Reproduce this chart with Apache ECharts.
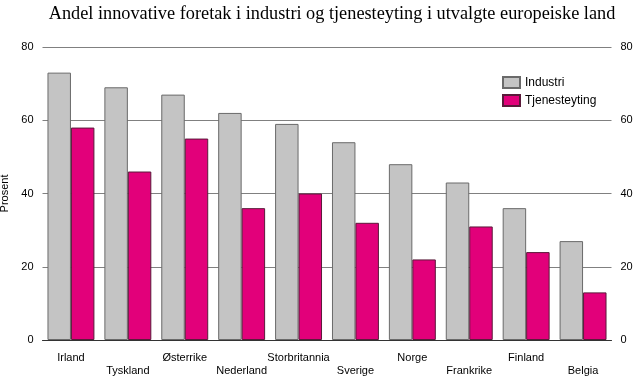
<!DOCTYPE html>
<html>
<head>
<meta charset="utf-8">
<script src="https://cdn.jsdelivr.net/npm/echarts@6/dist/echarts.min.js"></script>
<style>
  html, body { margin: 0; padding: 0; background: #fff; }
  #chart { width: 633px; height: 376px; }
</style>
</head>
<body>
<div id="chart"></div>
<script>
const countries = ['Irland', 'Tyskland', 'Østerrike', 'Nederland', 'Storbritannia', 'Sverige', 'Norge', 'Frankrike', 'Finland', 'Belgia']
const industri = [73, 69, 67, 62, 59, 54, 48, 43, 36, 27]
const tjenesteyting = [58, 46, 55, 36, 40, 32, 22, 31, 24, 13]
const yTicks = { min: 0, max: 80, interval: 20 }

let chartInstance = echarts.init(document.getElementById('chart'))

const labelFont = { fontFamily: 'Liberation Sans, Arial, sans-serif', fontSize: 11, color: '#000' }

const option = {
  animation: false,
  title: {
    text: 'Andel innovative foretak i industri og tjenesteyting i utvalgte europeiske land',
    left: 327,
    textAlign: 'center',
    top: 0,
    textStyle: {
      fontFamily: 'Liberation Serif, Times New Roman, serif',
      fontWeight: 'normal',
      fontSize: 18.3,
      color: '#000'
    }
  },
  legend: {
    orient: 'vertical',
    left: 497,
    top: 71,
    icon: 'rect',
    itemWidth: 17,
    itemHeight: 11,
    itemGap: 5,
    textStyle: { fontFamily: 'Liberation Sans, Arial, sans-serif', fontSize: 12, color: '#000' },
    data: ['Industri', 'Tjenesteyting']
  },
  grid: {
    left: 42.5,
    right: 21.5,
    top: 47,
    bottom: 36,
    outerBoundsMode: 'none',
    containLabel: false
  },
  xAxis: {
    type: 'category',
    data: countries,
    axisLine: { lineStyle: { color: '#333', width: 1 } },
    axisTick: { alignWithLabel: true, length: 5, lineStyle: { color: '#999' } },
    axisLabel: {
      ...labelFont,
      interval: 0,
      margin: 11,
      lineHeight: 13,
      formatter: (v, i) => (i % 2 ? '\n' + v : v)
    }
  },
  yAxis: [
    {
      type: 'value',
      ...yTicks,
      name: 'Prosent',
      nameLocation: 'middle',
      nameGap: 30,
      nameTextStyle: labelFont,
      axisLine: { show: false },
      axisTick: { show: false },
      axisLabel: { ...labelFont, margin: 9 },
      splitLine: { lineStyle: { color: '#808080', width: 1 } }
    },
    {
      type: 'value',
      ...yTicks,
      position: 'right',
      axisLine: { show: false },
      axisTick: { show: false },
      axisLabel: { ...labelFont, margin: 9 },
      splitLine: { show: false }
    }
  ],
  series: [
    {
      name: 'Industri',
      type: 'bar',
      data: industri,
      barGap: '0%',
      barCategoryGap: '17.5%',
      itemStyle: { color: '#c4c4c4', borderColor: '#6a6a6a', borderWidth: 1 }
    },
    {
      name: 'Tjenesteyting',
      type: 'bar',
      data: tjenesteyting,
      itemStyle: { color: '#e2007a', borderColor: '#5a1a3a', borderWidth: 1 }
    }
  ]
}

chartInstance.setOption(option)
</script>
</body>
</html>
